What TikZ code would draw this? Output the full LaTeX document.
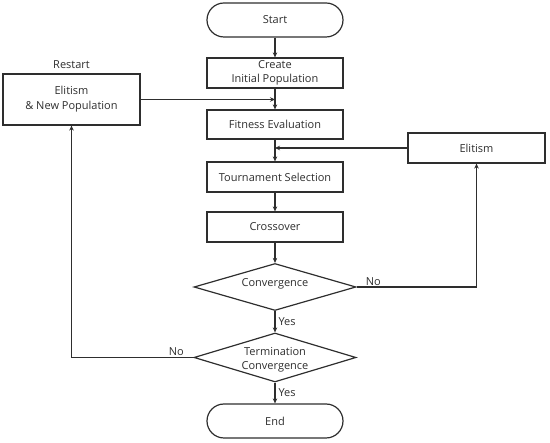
\documentclass[tikz,border=0pt]{standalone}
\usepackage{fontspec}
\setmainfont{Open Sans}
\usetikzlibrary{shapes.geometric,arrows.meta}
\definecolor{ink}{HTML}{2E2E2E}
\begin{document}
\begin{tikzpicture}[x=1pt,y=-1pt,
  every node/.style={text=ink,font=\fontsize{11}{14}\selectfont},
  box/.style={draw=ink,line width=1.2pt,rectangle,minimum width=136pt,inner sep=0pt,align=center},
  term/.style={draw=ink,line width=1.2pt,rectangle,rounded corners=17pt,minimum width=136pt,minimum height=34pt,inner sep=0pt},
  dec/.style={draw=ink,line width=1.2pt,diamond,minimum width=162pt,inner sep=0pt},
  flow/.style={draw=ink,line width=1.2pt,-{Stealth[length=5pt,width=4.5pt]}},
  lbl/.style={inner sep=1pt}]
\useasboundingbox (0,0) rectangle (550,443);
\node[term] (start) at (275,20) {Start};
\node[box,minimum height=30pt] (create) at (275,73) {Create\\Initial Population};
\node[box,minimum height=29pt] (fit) at (275,124.5) {Fitness Evaluation};
\node[box,minimum height=30pt] (tour) at (275,177) {Tournament Selection};
\node[box,minimum height=30pt] (cross) at (275,227) {Crossover};
\node[dec,minimum height=47pt] (conv) at (275,287) {\makebox[0pt]{\smash{Convergence}}};
\node[dec,minimum height=49pt] (tconv) at (275,357.5) {\makebox[0pt]{\smash{\raisebox{-4.5pt}{\begin{tabular}{@{}c@{}}Termination\\Convergence\end{tabular}}}}};
\node[term] (end) at (275,421) {End};
\node[box,minimum width=137pt,minimum height=51pt,font=\fontsize{11}{15}\selectfont] (rst) at (71.5,99.5) {Elitism\\\& New Population};
\node[lbl,anchor=south] (rstl) at ([yshift=4pt]rst.north) {Restart};
\node[box,minimum width=137pt,minimum height=30pt] (eli) at (476.5,148) {Elitism};
\draw[flow] (start) -- (create);
\draw[flow] (create) -- (fit);
\draw[flow] (fit) -- (tour);
\draw[flow] (tour) -- (cross);
\draw[flow] (cross) -- (conv);
\draw[flow] (conv) -- node[lbl,right=2pt] (y1) {Yes} (tconv);
\draw[flow] (tconv) -- node[lbl,right=2pt] (y2) {Yes} (end);
\draw[flow] (rst.east) -- (rst.east -| create.south);
\draw[flow] (eli.west) -- (eli.west -| fit.south);
\draw[flow] (conv.east) -| node[lbl,pos=0.07,above] (n1) {No} (eli.south);
\draw[flow] (tconv.west) -| node[lbl,pos=0.07,above] (n2) {No} (rst.south);
\end{tikzpicture}
\end{document}
